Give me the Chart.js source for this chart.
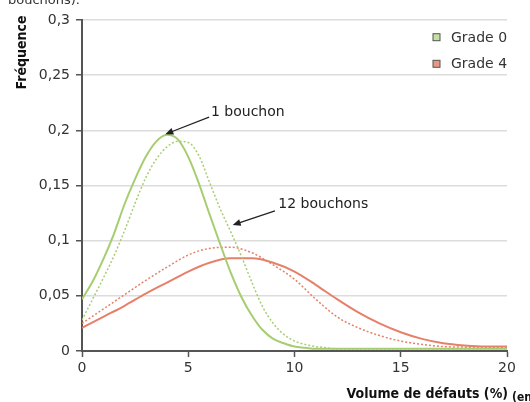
<!DOCTYPE html>
<html>
<head>
<meta charset="utf-8">
<script src="https://cdn.jsdelivr.net/npm/chart.js@4"></script>
<style>
  body { margin: 0; background: #fff; }
</style>
</head>
<body>
<canvas id="graphique" width="530" height="402"></canvas>
<script>
// Volume de défauts (%) en abscisse
const xGrade0 = [0, 0.5, 1, 1.5, 2, 2.5, 3, 3.5, 4, 4.5, 5, 5.5, 6, 6.5, 7, 7.5, 8, 8.5, 9, 9.5, 10, 10.5, 11, 11.5, 12, 13, 14, 15, 16, 17, 18, 19, 20];
const xGrade4 = [0, 1, 2, 3, 4, 5, 6, 7, 8, 9, 10, 11, 12, 13, 14, 15, 16, 17, 18, 19, 20];

// Fréquences : 1 bouchon (trait plein) et 12 bouchons (pointillés)
const grade0Un = [0.047, 0.063, 0.083, 0.106, 0.133, 0.156, 0.176, 0.190, 0.196, 0.192, 0.176, 0.152, 0.124, 0.097, 0.071, 0.049, 0.032, 0.019, 0.011, 0.007, 0.004, 0.003, 0.002, 0.002, 0.002, 0.002, 0.002, 0.002, 0.002, 0.002, 0.002, 0.002, 0.002];
const grade0Douze = [0.028, 0.047, 0.066, 0.086, 0.109, 0.134, 0.157, 0.174, 0.185, 0.190, 0.189, 0.177, 0.153, 0.129, 0.108, 0.086, 0.062, 0.040, 0.025, 0.015, 0.009, 0.006, 0.004, 0.003, 0.002, 0.002, 0.002, 0.002, 0.002, 0.002, 0.002, 0.002, 0.002];
const grade4Un = [0.021, 0.031, 0.041, 0.052, 0.062, 0.072, 0.080, 0.084, 0.084, 0.080, 0.072, 0.060, 0.047, 0.035, 0.025, 0.017, 0.011, 0.007, 0.005, 0.004, 0.004];
const grade4Douze = [0.025, 0.038, 0.051, 0.064, 0.076, 0.087, 0.093, 0.094, 0.089, 0.078, 0.065, 0.047, 0.031, 0.021, 0.014, 0.009, 0.006, 0.004, 0.0035, 0.003, 0.003];

const yTickLabels = ['0', '0,05', '0,1', '0,15', '0,2', '0,25', '0,3'];
const xTickLabels = ['0', '5', '10', '15', '20'];
const legendLabels = ['Grade 0', 'Grade 4'];

const VERT = 'rgb(166, 206, 112)';
const ROUGE = 'rgb(230, 128, 105)';
const police = "'DejaVu Sans', Verdana, sans-serif";
const policeGras = "'DejaVu Sans Condensed', 'Liberation Sans', sans-serif";

function points(xs, ys) {
  return xs.map(function (x, i) { return { x: x, y: ys[i] }; });
}

// flèches et étiquettes (coordonnées dans le repère du graphique)
const fleches = [
  { texte: '1 bouchon', tx: 6.07, ty: 0.213, de: [5.98, 0.212], vers: [3.92, 0.1965] },
  { texte: '12 bouchons', tx: 9.24, ty: 0.1293, de: [9.08, 0.127], vers: [7.09, 0.1142] }
];

const decor = {
  id: 'decor',
  afterDraw: function (chart) {
    const ctx = chart.ctx;
    const sx = chart.scales.x, sy = chart.scales.y;
    ctx.save();

    // légende
    const couleurs = [VERT, ROUGE];
    const remplissage = ['rgb(196, 224, 160)', 'rgb(236, 150, 128)'];
    legendLabels.forEach(function (lab, i) {
      const yb = 41.7 + i * 26.6;
      ctx.fillStyle = remplissage[i];
      ctx.fillRect(433, yb - 8, 7, 7);
      ctx.strokeStyle = '#555';
      ctx.lineWidth = 1;
      ctx.strokeRect(433, yb - 8, 7, 7);
      ctx.fillStyle = '#333';
      ctx.font = '14px ' + police;
      ctx.textAlign = 'left';
      ctx.textBaseline = 'alphabetic';
      ctx.fillText(lab, 451, yb);
    });

    // flèches
    fleches.forEach(function (f) {
      const x1 = sx.getPixelForValue(f.de[0]), y1 = sy.getPixelForValue(f.de[1]);
      const x2 = sx.getPixelForValue(f.vers[0]), y2 = sy.getPixelForValue(f.vers[1]);
      const a = Math.atan2(y2 - y1, x2 - x1);
      ctx.strokeStyle = '#222';
      ctx.fillStyle = '#222';
      ctx.lineWidth = 1.2;
      ctx.beginPath();
      ctx.moveTo(x1, y1);
      ctx.lineTo(x2 - 6 * Math.cos(a), y2 - 6 * Math.sin(a));
      ctx.stroke();
      ctx.beginPath();
      ctx.moveTo(x2, y2);
      ctx.lineTo(x2 - 8 * Math.cos(a) + 3.5 * Math.sin(a), y2 - 8 * Math.sin(a) - 3.5 * Math.cos(a));
      ctx.lineTo(x2 - 8 * Math.cos(a) - 3.5 * Math.sin(a), y2 - 8 * Math.sin(a) + 3.5 * Math.cos(a));
      ctx.closePath();
      ctx.fill();
      ctx.font = '14px ' + police;
      ctx.textAlign = 'left';
      ctx.textBaseline = 'alphabetic';
      ctx.fillText(f.texte, sx.getPixelForValue(f.tx), sy.getPixelForValue(f.ty));
    });

    // titres des axes
    ctx.fillStyle = '#111';
    ctx.font = 'bold 14px ' + policeGras;
    ctx.textAlign = 'right';
    ctx.fillText('Volume de défauts (%)', 508, 397.5);
    ctx.textAlign = 'left';
    ctx.font = 'bold 12px ' + policeGras;
    ctx.fillText('(en volume)', 512, 401);

    ctx.save();
    ctx.translate(22, 52.5);
    ctx.rotate(-Math.PI / 2);
    ctx.font = 'bold 14px ' + policeGras;
    ctx.textAlign = 'center';
    ctx.textBaseline = 'middle';
    ctx.fillText('Fréquence', 0, 0);
    ctx.restore();

    // fin de la légende du document, coupée en haut
    ctx.fillStyle = '#333';
    ctx.font = '13px ' + police;
    ctx.textAlign = 'left';
    ctx.textBaseline = 'alphabetic';
    ctx.fillText('bouchons).', 8, 3.5);

    ctx.restore();
  }
};

const graphique = new Chart(document.getElementById('graphique'), {
  type: 'line',
  data: {
    datasets: [
      { label: 'Grade 0 - 1 bouchon', data: points(xGrade0, grade0Un), borderColor: VERT, borderWidth: 2 },
      { label: 'Grade 0 - 12 bouchons', data: points(xGrade0, grade0Douze), borderColor: VERT, borderWidth: 1.5, borderDash: [2, 2] },
      { label: 'Grade 4 - 1 bouchon', data: points(xGrade4, grade4Un), borderColor: ROUGE, borderWidth: 2 },
      { label: 'Grade 4 - 12 bouchons', data: points(xGrade4, grade4Douze), borderColor: ROUGE, borderWidth: 1.5, borderDash: [2, 2] }
    ]
  },
  options: {
    responsive: false,
    animation: false,
    devicePixelRatio: 1,
    layout: { padding: { top: 20, right: 23, left: 0, bottom: 0 } },
    elements: {
      point: { radius: 0 },
      line: { cubicInterpolationMode: 'monotone', fill: false }
    },
    plugins: {
      legend: { display: false },
      tooltip: { enabled: false }
    },
    scales: {
      x: {
        type: 'linear',
        min: 0,
        max: 20,
        afterFit: function (s) { s.height = 51; },
        border: { color: '#555', width: 2 },
        grid: { drawOnChartArea: false, tickLength: 6, tickColor: '#555', tickWidth: 1.5 },
        ticks: {
          stepSize: 5,
          padding: 3,
          maxRotation: 0,
          color: '#333',
          font: { family: police, size: 14 },
          callback: function (v, i) { return xTickLabels[i]; }
        }
      },
      y: {
        min: 0,
        max: 0.3,
        afterFit: function (s) { s.width = 82; },
        border: { color: '#555', width: 2 },
        grid: { color: '#dcdcdc', lineWidth: 1.5, tickLength: 6, tickColor: '#555', tickWidth: 1.5 },
        ticks: {
          stepSize: 0.05,
          padding: 6,
          color: '#333',
          font: { family: police, size: 14 },
          callback: function (v, i) { return yTickLabels[i]; }
        }
      }
    }
  },
  plugins: [decor]
});
</script>
</body>
</html>
